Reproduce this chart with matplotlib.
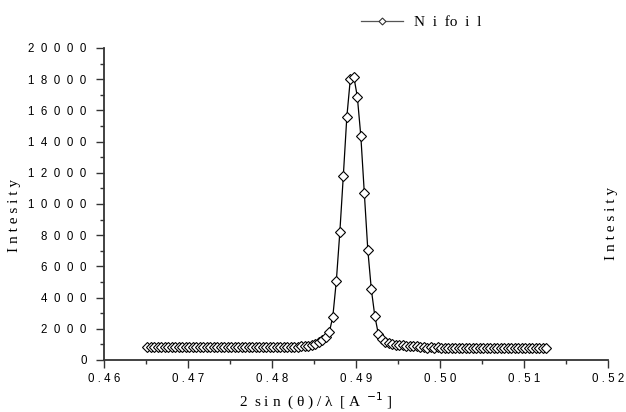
import numpy as np
import matplotlib
matplotlib.use("Agg")
import matplotlib.pyplot as plt
from matplotlib.ticker import FixedLocator

# Scan grid: momentum transfer 2 sin(theta)/lambda, uniform instrument step
q_start = 0.465155
q_step = 0.0004167
n_points = 115

# Measured intensity of the Ni foil reflection
intensity = [
    850, 845, 855, 850, 848, 852, 850, 846, 854, 850,
    848, 853, 849, 851, 847, 852, 850, 848, 855, 849,
    851, 846, 853, 850, 848, 852, 849, 851, 850, 847,
    853, 850, 848, 851, 852, 849, 850, 855, 848, 851,
    853, 850, 856, 860, 870, 890, 920, 970, 1040, 1130,
    1280, 1450, 1780, 2780, 5060, 8180, 11810, 15570, 18010, 18160,
    16880, 14360, 10700, 7050, 4530, 2820, 1670, 1330, 1150, 1060,
    1000, 970, 950, 935, 925, 920, 915, 910, 810, 805,
    800, 806, 798, 802, 795, 800, 797, 792, 799, 794,
    790, 796, 791, 788, 794, 789, 786, 791, 785, 788,
    783, 787, 782, 785, 780, 784, 778, 782, 777, 780,
    776, 779, 774, 777, 775,
]
q = q_start + q_step * np.arange(n_points)

x_ticks = [0.46, 0.47, 0.48, 0.49, 0.50, 0.51, 0.52]
x_tick_labels = ["0 . 4 6", "0 . 4 7", "0 . 4 8", "0 . 4 9", "0 . 5 0", "0 . 5 1", "0 . 5 2"]
y_ticks = [0, 2000, 4000, 6000, 8000, 10000, 12000, 14000, 16000, 18000, 20000]
y_tick_labels = ["  ".join(str(v)) for v in y_ticks]

serif = "Liberation Serif"
sans = "Liberation Sans"

fig = plt.figure(figsize=(6.26, 4.12), dpi=100)
ax = fig.add_axes([104 / 626, 52 / 412, 504 / 626, 312 / 412])

line, = ax.plot(q, intensity, color="black", lw=0.9, marker="D", markersize=4.8,
                markerfacecolor="white", markeredgecolor="black", markeredgewidth=0.8,
                label="N  i  fo  i  l")

ax.set_xlim(0.46, 0.52)
ax.set_ylim(0, 20000)

for s in ("top", "right"):
    ax.spines[s].set_visible(False)
for s in ("left", "bottom"):
    ax.spines[s].set_color("#333333")
    ax.spines[s].set_linewidth(1.3)

ax.xaxis.set_major_locator(FixedLocator(x_ticks))
ax.xaxis.set_minor_locator(FixedLocator([0.465, 0.475, 0.485, 0.495, 0.505, 0.515]))
ax.yaxis.set_major_locator(FixedLocator(y_ticks))
ax.yaxis.set_minor_locator(FixedLocator(np.arange(1000, 20000, 2000)))
ax.set_xticklabels(x_tick_labels, fontfamily=sans, fontsize=8.3)
ax.set_yticklabels(y_tick_labels, fontfamily=sans, fontsize=8.3)

ax.tick_params(which="major", direction="out", length=5.5, width=1.0, color="#333333", pad=4)
ax.tick_params(which="minor", direction="out", length=3, width=1.0, color="#333333")
ax.tick_params(axis="y", which="major", pad=7)

fig.text(316 / 626, 1 - 401 / 412, "2  s i n  ( θ ) / λ  [ A  $^{-1}$ ]", ha="center",
         va="center", fontfamily=serif, fontsize=11)

fig.text(15 / 626, 1 - 216 / 412, "I n t e s i t y", rotation=90, ha="center", va="center",
         fontfamily=serif, fontsize=11)
fig.text(612 / 626, 1 - 224 / 412, "I n t e s i t y", rotation=90, ha="center", va="center",
         fontfamily=serif, fontsize=11)

# Legend entry drawn in figure coordinates above the axes
leg = ax.legend(handles=[line], loc="center left", bbox_to_anchor=(347 / 626, 1 - 22 / 412),
                bbox_transform=fig.transFigure, frameon=False, handlelength=2.75,
                handletextpad=0.75, prop={"family": serif, "size": 11})
leg_line = leg.get_lines()[0]
leg_line.set_color("#555555")
leg_line.set_markersize(3.5)
leg_line.set_markeredgecolor("#333333")

fig.savefig("out.png", dpi=100)
